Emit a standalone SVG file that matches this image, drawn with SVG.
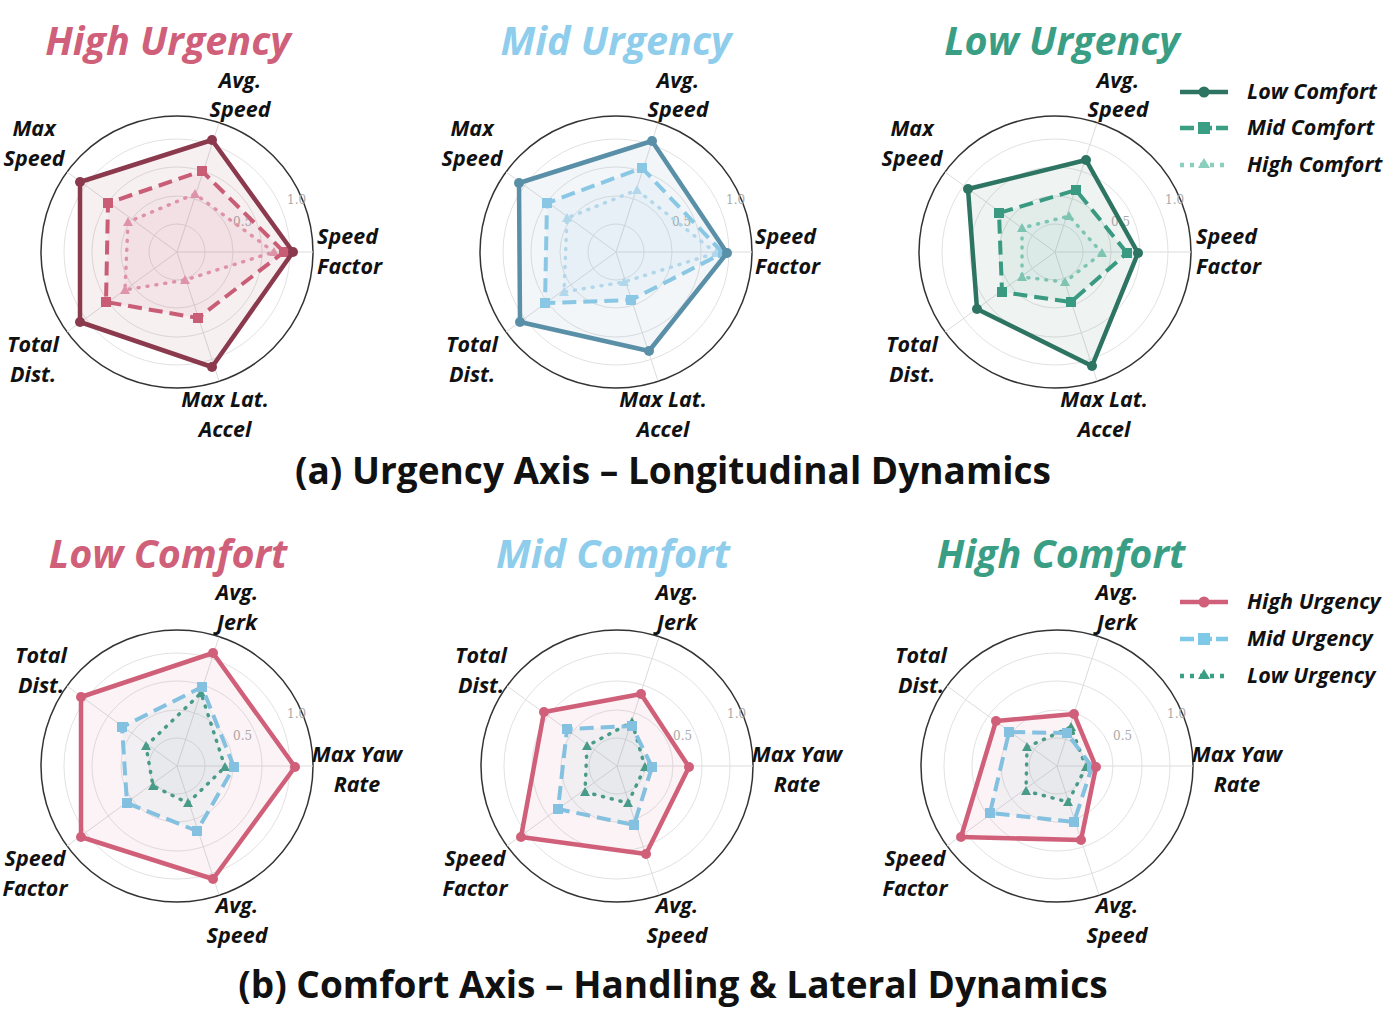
<svg xmlns="http://www.w3.org/2000/svg" width="1394" height="1024" viewBox="0 0 1394 1024">
<style>
.ttl{font-family:"Open Sans","Liberation Sans",sans-serif;font-weight:bold;font-style:italic;font-size:39.5px;text-anchor:middle}
.cap{font-family:"Open Sans","Liberation Sans",sans-serif;font-weight:bold;font-size:37px;text-anchor:middle;fill:#111}
.ax{font-family:"Open Sans","Liberation Sans",sans-serif;font-weight:bold;font-style:italic;font-size:21.5px;fill:#111;text-anchor:middle}
.axl{font-family:"Open Sans","Liberation Sans",sans-serif;font-weight:bold;font-style:italic;font-size:21.5px;fill:#111}
.tk{font-family:"DejaVu Serif","Liberation Serif",serif;font-size:12px;fill:#aaa}
.ring{fill:none;stroke:#e2e2e2;stroke-width:1}
.spoke{stroke:#dcdcdc;stroke-width:1}
.outer{fill:#fff;stroke:#333;stroke-width:1.5}
.s{stroke-width:4.5;stroke-linejoin:round;fill-opacity:0.08}
.d{stroke-width:4;stroke-dasharray:14 7;stroke-linejoin:round;fill-opacity:0.07}
.o{stroke-width:3.5;stroke-dasharray:1 8;stroke-linecap:round;fill-opacity:0.06}
</style>
<defs>
<g id="grid">
<circle class="outer" r="136"/>
<circle class="ring" r="28"/><circle class="ring" r="56"/><circle class="ring" r="85"/><circle class="ring" r="113"/>
<line class="spoke" x1="0" y1="0" x2="136" y2="0"/><line class="spoke" x1="0" y1="0" x2="42" y2="-129"/><line class="spoke" x1="0" y1="0" x2="-110" y2="-80"/><line class="spoke" x1="0" y1="0" x2="-110" y2="80"/><line class="spoke" x1="0" y1="0" x2="42" y2="129"/>
<text class="tk" x="110" y="-48">1.0</text><text class="tk" x="56" y="-26">0.5</text>
</g>
<marker id="cA" viewBox="-6 -6 12 12" markerWidth="12" markerHeight="12" markerUnits="userSpaceOnUse"><circle r="5" fill="#8B3A4E"/></marker>
<marker id="sA" viewBox="-6 -6 12 12" markerWidth="12" markerHeight="12" markerUnits="userSpaceOnUse"><rect x="-5" y="-5" width="10" height="10" fill="#D0607A"/></marker>
<marker id="tA" viewBox="-6 -6 12 12" markerWidth="12" markerHeight="12" markerUnits="userSpaceOnUse"><path d="M0,-5 L5,4 L-5,4Z" fill="#E8A0B4"/></marker>
<marker id="cB" viewBox="-6 -6 12 12" markerWidth="12" markerHeight="12" markerUnits="userSpaceOnUse"><circle r="5" fill="#5A8FA8"/></marker>
<marker id="sB" viewBox="-6 -6 12 12" markerWidth="12" markerHeight="12" markerUnits="userSpaceOnUse"><rect x="-5" y="-5" width="10" height="10" fill="#8ECDEB"/></marker>
<marker id="tB" viewBox="-6 -6 12 12" markerWidth="12" markerHeight="12" markerUnits="userSpaceOnUse"><path d="M0,-5 L5,4 L-5,4Z" fill="#BEE0F0"/></marker>
<marker id="cC" viewBox="-6 -6 12 12" markerWidth="12" markerHeight="12" markerUnits="userSpaceOnUse"><circle r="5" fill="#2E7462"/></marker>
<marker id="sC" viewBox="-6 -6 12 12" markerWidth="12" markerHeight="12" markerUnits="userSpaceOnUse"><rect x="-5" y="-5" width="10" height="10" fill="#3A9E84"/></marker>
<marker id="tC" viewBox="-6 -6 12 12" markerWidth="12" markerHeight="12" markerUnits="userSpaceOnUse"><path d="M0,-5 L5,4 L-5,4Z" fill="#8ACFBD"/></marker>
<marker id="cD" viewBox="-6 -6 12 12" markerWidth="12" markerHeight="12" markerUnits="userSpaceOnUse"><circle r="5" fill="#D0607A"/></marker>
<marker id="sD" viewBox="-6 -6 12 12" markerWidth="12" markerHeight="12" markerUnits="userSpaceOnUse"><rect x="-5" y="-5" width="10" height="10" fill="#7EC8E8"/></marker>
<marker id="tD" viewBox="-6 -6 12 12" markerWidth="12" markerHeight="12" markerUnits="userSpaceOnUse"><path d="M0,-5 L5,4 L-5,4Z" fill="#3A9E84"/></marker>
</defs>
<rect width="1394" height="1024" fill="#fff"/>

<text class="ttl" x="168" y="55" fill="#D0607A">High Urgency</text>
<text class="ttl" x="616" y="55" fill="#8ECDEB">Mid Urgency</text>
<text class="ttl" x="1062" y="55" fill="#3A9E84">Low Urgency</text>
<text class="ttl" x="168" y="568" fill="#D0607A">Low Comfort</text>
<text class="ttl" x="613" y="568" fill="#8ECDEB">Mid Comfort</text>
<text class="ttl" x="1061" y="568" fill="#3A9E84">High Comfort</text>
<text class="cap" x="673" y="484">(a) Urgency Axis – Longitudinal Dynamics</text>
<text class="cap" x="673" y="998">(b) Comfort Axis – Handling &amp; Lateral Dynamics</text>

<g id="chart-high-urgency">
<use href="#grid" x="177" y="252"/>
<polygon class="o" fill="#E8A0B4" stroke="#E8A0B4" marker-start="url(#tA)" marker-mid="url(#tA)" points="274,252 195,194 128,222 125,290 185,280"/>
<polygon class="d" fill="#D0607A" stroke="#D0607A" marker-start="url(#sA)" marker-mid="url(#sA)" points="284,252 202,171 108,203 106,302 198,318"/>
<polygon class="s" fill="#8B3A4E" stroke="#8B3A4E" marker-start="url(#cA)" marker-mid="url(#cA)" points="293,252 212,140 80,182 80,322 212,367"/>
<text class="ax" x="240" y="88">Avg.</text><text class="ax" x="240" y="117">Speed</text>
<text class="ax" x="34" y="136">Max</text><text class="ax" x="34" y="166">Speed</text>
<text class="axl" x="317" y="244">Speed</text><text class="axl" x="317" y="274">Factor</text>
<text class="ax" x="33" y="352">Total</text><text class="ax" x="33" y="382">Dist.</text>
<text class="ax" x="225" y="407">Max Lat.</text><text class="ax" x="225" y="437">Accel</text>
</g>

<g id="chart-mid-urgency">
<use href="#grid" x="616" y="252"/>
<polygon class="o" fill="#BEE0F0" stroke="#BEE0F0" marker-start="url(#tB)" marker-mid="url(#tB)" points="716,253 637,190 567,218 564,292 624,282"/>
<polygon class="d" fill="#8ECDEB" stroke="#8ECDEB" marker-start="url(#sB)" marker-mid="url(#sB)" points="723,253 642,168 547,203 545,303 631,300"/>
<polygon class="s" fill="#5A8FA8" stroke="#5A8FA8" marker-start="url(#cB)" marker-mid="url(#cB)" points="727,253 652,141 519,183 520,322 649,351"/>
<text class="ax" x="678" y="88">Avg.</text><text class="ax" x="678" y="117">Speed</text>
<text class="ax" x="472" y="136">Max</text><text class="ax" x="472" y="166">Speed</text>
<text class="axl" x="755" y="244">Speed</text><text class="axl" x="755" y="274">Factor</text>
<text class="ax" x="472" y="352">Total</text><text class="ax" x="472" y="382">Dist.</text>
<text class="ax" x="663" y="407">Max Lat.</text><text class="ax" x="663" y="437">Accel</text>
</g>

<g id="chart-low-urgency">
<use href="#grid" x="1055" y="252"/>
<polygon class="o" fill="#8ACFBD" stroke="#8ACFBD" marker-start="url(#tC)" marker-mid="url(#tC)" points="1102,253 1069,216 1022,228 1022,277 1065,282"/>
<polygon class="d" fill="#3A9E84" stroke="#3A9E84" marker-start="url(#sC)" marker-mid="url(#sC)" points="1127,253 1076,190 999,213 1002,292 1071,302"/>
<polygon class="s" fill="#2E7462" stroke="#2E7462" marker-start="url(#cC)" marker-mid="url(#cC)" points="1138,253 1086,160 968,189 977,309 1092,366"/>
<text class="ax" x="1118" y="88">Avg.</text><text class="ax" x="1118" y="117">Speed</text>
<text class="ax" x="912" y="136">Max</text><text class="ax" x="912" y="166">Speed</text>
<text class="axl" x="1196" y="244">Speed</text><text class="axl" x="1196" y="274">Factor</text>
<text class="ax" x="912" y="352">Total</text><text class="ax" x="912" y="382">Dist.</text>
<text class="ax" x="1104" y="407">Max Lat.</text><text class="ax" x="1104" y="437">Accel</text>
</g>

<g id="legend-top">
<line x1="1180" y1="92" x2="1228" y2="92" stroke="#2E7462" stroke-width="4.5"/><circle cx="1204" cy="92" r="5.5" fill="#2E7462"/>
<line x1="1180" y1="128" x2="1228" y2="128" stroke="#3A9E84" stroke-width="4.5" stroke-dasharray="14 4"/><rect x="1198" y="122" width="12" height="12" fill="#3A9E84"/>
<line x1="1180" y1="165" x2="1228" y2="165" stroke="#8ACFBD" stroke-width="4.5" stroke-dasharray="4 6"/><path d="M1204,158 L1210,168 L1198,168Z" fill="#8ACFBD"/>
<text class="axl" x="1247" y="99">Low Comfort</text>
<text class="axl" x="1247" y="135">Mid Comfort</text>
<text class="axl" x="1247" y="172">High Comfort</text>
</g>

<g id="chart-low-comfort">
<use href="#grid" x="177" y="766"/>
<polygon class="o" fill="#3A9E84" stroke="#3A9E84" marker-start="url(#tD)" marker-mid="url(#tD)" points="225,767 201,693 146,746 153,786 188,803"/>
<polygon class="d" fill="#7EC8E8" stroke="#7EC8E8" marker-start="url(#sD)" marker-mid="url(#sD)" points="234,767 202,687 122,727 127,803 197,831"/>
<polygon class="s" fill="#D0607A" stroke="#D0607A" marker-start="url(#cD)" marker-mid="url(#cD)" points="295,767 213,653 81,697 81,837 213,879"/>
<text class="ax" x="237" y="600">Avg.</text><text class="ax" x="237" y="630">Jerk</text>
<text class="ax" x="41" y="663">Total</text><text class="ax" x="41" y="693">Dist.</text>
<text class="ax" x="357" y="762">Max Yaw</text><text class="ax" x="357" y="792">Rate</text>
<text class="ax" x="35" y="866">Speed</text><text class="ax" x="35" y="896">Factor</text>
<text class="ax" x="237" y="913">Avg.</text><text class="ax" x="237" y="943">Speed</text>
</g>

<g id="chart-mid-comfort">
<use href="#grid" x="617" y="766"/>
<polygon class="o" fill="#3A9E84" stroke="#3A9E84" marker-start="url(#tD)" marker-mid="url(#tD)" points="645,767 632,722 587,746 585,792 628,803"/>
<polygon class="d" fill="#7EC8E8" stroke="#7EC8E8" marker-start="url(#sD)" marker-mid="url(#sD)" points="652,767 632,726 567,729 558,809 634,825"/>
<polygon class="s" fill="#D0607A" stroke="#D0607A" marker-start="url(#cD)" marker-mid="url(#cD)" points="689,767 641,694 544,712 521,837 646,854"/>
<text class="ax" x="677" y="600">Avg.</text><text class="ax" x="677" y="630">Jerk</text>
<text class="ax" x="481" y="663">Total</text><text class="ax" x="481" y="693">Dist.</text>
<text class="ax" x="797" y="762">Max Yaw</text><text class="ax" x="797" y="792">Rate</text>
<text class="ax" x="475" y="866">Speed</text><text class="ax" x="475" y="896">Factor</text>
<text class="ax" x="677" y="913">Avg.</text><text class="ax" x="677" y="943">Speed</text>
</g>

<g id="chart-high-comfort">
<use href="#grid" x="1057" y="766"/>
<polygon class="o" fill="#3A9E84" stroke="#3A9E84" marker-start="url(#tD)" marker-mid="url(#tD)" points="1086,767 1071,727 1027,747 1026,791 1068,802"/>
<polygon class="d" fill="#7EC8E8" stroke="#7EC8E8" marker-start="url(#sD)" marker-mid="url(#sD)" points="1092,767 1067,733 1009,732 990,813 1074,822"/>
<polygon class="s" fill="#D0607A" stroke="#D0607A" marker-start="url(#cD)" marker-mid="url(#cD)" points="1096,767 1074,714 996,721 961,837 1081,840"/>
<text class="ax" x="1117" y="600">Avg.</text><text class="ax" x="1117" y="630">Jerk</text>
<text class="ax" x="921" y="663">Total</text><text class="ax" x="921" y="693">Dist.</text>
<text class="ax" x="1237" y="762">Max Yaw</text><text class="ax" x="1237" y="792">Rate</text>
<text class="ax" x="915" y="866">Speed</text><text class="ax" x="915" y="896">Factor</text>
<text class="ax" x="1117" y="913">Avg.</text><text class="ax" x="1117" y="943">Speed</text>
</g>

<g id="legend-bottom">
<line x1="1180" y1="602" x2="1228" y2="602" stroke="#D0607A" stroke-width="4.5"/><circle cx="1204" cy="602" r="5.5" fill="#D0607A"/>
<line x1="1180" y1="639" x2="1228" y2="639" stroke="#7EC8E8" stroke-width="4.5" stroke-dasharray="14 4"/><rect x="1198" y="633" width="12" height="12" fill="#7EC8E8"/>
<line x1="1180" y1="676" x2="1228" y2="676" stroke="#3A9E84" stroke-width="4.5" stroke-dasharray="4 6"/><path d="M1204,669 L1210,679 L1198,679Z" fill="#3A9E84"/>
<text class="axl" x="1247" y="609">High Urgency</text>
<text class="axl" x="1247" y="646">Mid Urgency</text>
<text class="axl" x="1247" y="683">Low Urgency</text>
</g>
</svg>
